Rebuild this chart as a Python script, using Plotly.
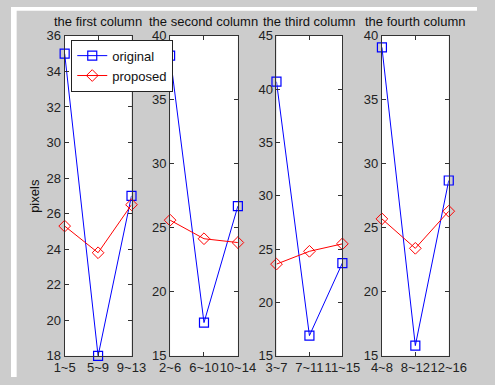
import plotly.graph_objects as go

titles = ["the first column", "the second column", "the third column", "the fourth column"]
xlabels = [["1~5", "5~9", "9~13"], ["2~6", "6~10", "10~14"], ["3~7", "7~11", "11~15"], ["4~8", "8~12", "12~16"]]
original = [[35.0, 18.0, 27.0], [38.45, 17.6, 26.7], [40.7, 16.9, 23.7], [39.1, 15.8, 28.7]]
proposed = [[25.3, 23.8, 26.5], [25.6, 24.15, 23.85], [23.6, 24.8, 25.5], [25.7, 23.4, 26.3]]
yranges = [[18, 36], [15, 40], [15, 45], [15, 40]]
ydticks = [2, 5, 5, 5]

W, H = 495, 385
panels_x = [(57, 128), (169, 241), (282, 352), (394, 465)]
py_top, py_bot = 30, 363

FONT = "Liberation Sans, Arial, sans-serif"
fig = go.Figure()
layout = {}
annotations = []
for i in range(4):
    xa = "x" if i == 0 else f"x{i+1}"
    ya = "y" if i == 0 else f"y{i+1}"
    xs = [0, 1, 2]
    fig.add_trace(go.Scatter(x=xs, y=original[i], xaxis=xa, yaxis=ya, mode="lines+markers",
                             name="original", showlegend=(i == 0), cliponaxis=False,
                             line=dict(color="#0000ff", width=1),
                             marker=dict(symbol="square-open", size=9, color="#0000ff", line=dict(width=1.2))))
    fig.add_trace(go.Scatter(x=xs, y=proposed[i], xaxis=xa, yaxis=ya, mode="lines+markers",
                             name="proposed", showlegend=(i == 0), cliponaxis=False,
                             line=dict(color="#ff0000", width=1),
                             marker=dict(symbol="diamond-open", size=9, color="#ff0000", line=dict(width=1))))
    x0, x1 = panels_x[i]
    axis_common = dict(showgrid=False, zeroline=False, showline=True, linecolor="#333333", linewidth=1,
                       mirror="ticks", ticks="inside", ticklen=4, tickcolor="#333333",
                       tickfont=dict(family=FONT, size=13, color="#222222"))
    layout["xaxis" if i == 0 else f"xaxis{i+1}"] = dict(
        domain=[x0 / W, x1 / W], anchor=ya, range=[0, 2], tickvals=[0, 1, 2], ticktext=xlabels[i],
        tickangle=0, **axis_common)
    layout["yaxis" if i == 0 else f"yaxis{i+1}"] = dict(
        domain=[1 - py_bot / H, 1 - py_top / H], anchor=xa, range=yranges[i],
        tick0=yranges[i][0], dtick=ydticks[i], **axis_common)
    annotations.append(dict(text=titles[i], x=(x0 + x1) / 2 / W, y=1 - 15.5 / H, xref="paper", yref="paper",
                            xanchor="center", yanchor="middle", showarrow=False,
                            font=dict(family=FONT, size=13, color="#111111")))

annotations.append(dict(text="pixels", x=25 / W, y=1 - 197 / H, xref="paper", yref="paper",
                        xanchor="center", yanchor="middle", showarrow=False, textangle=-90,
                        font=dict(family=FONT, size=13, color="#111111")))

fig.update_layout(
    width=W, height=H, margin=dict(l=0, r=0, t=0, b=0),
    paper_bgcolor="#cccccc", plot_bgcolor="#ffffff",
    annotations=annotations,
    legend=dict(x=64 / W, y=1 - 34 / H, xanchor="left", yanchor="top", bgcolor="#ffffff",
                bordercolor="#222222", borderwidth=1, font=dict(family=FONT, size=13, color="#111111"),
                itemwidth=30, tracegroupgap=0),
    shapes=[
        dict(type="rect", xref="paper", yref="paper", x0=0, x1=6 / W, y0=0, y1=1, fillcolor="white", line_width=0),
        dict(type="rect", xref="paper", yref="paper", x0=0, x1=1, y0=1 - 4 / H, y1=1, fillcolor="white", line_width=0),
    ],
    **layout,
)
fig.write_html("out.html", config={"displayModeBar": False},
               post_script="document.body.style.margin='0';document.body.style.overflow='hidden';")
